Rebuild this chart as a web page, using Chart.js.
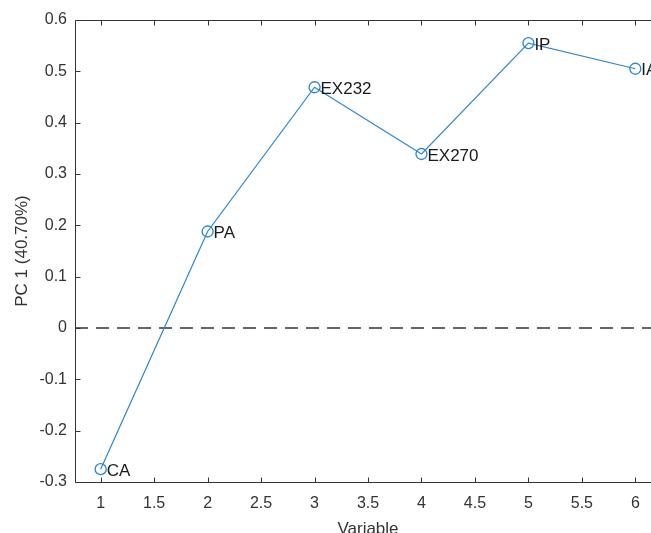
<!DOCTYPE html>
<html>
<head>
<meta charset="utf-8">
<script src="https://cdn.jsdelivr.net/npm/chart.js@4"></script>
<style>
  html, body { margin: 0; padding: 0; overflow: hidden; background: #fff; }
  canvas { display: block; }
</style>
</head>
<body>
<canvas id="pcChart" width="700" height="545"></canvas>
<script>
// loadings of the first principal component
const variables = [1, 2, 3, 4, 5, 6];
const names = ['CA', 'PA', 'EX232', 'EX270', 'IP', 'IA'];
const pc1 = [-0.275, 0.188, 0.469, 0.339, 0.555, 0.505];

const xTicks = [1, 1.5, 2, 2.5, 3, 3.5, 4, 4.5, 5, 5.5, 6];
const yTicks = [-0.3, -0.2, -0.1, 0, 0.1, 0.2, 0.3, 0.4, 0.5, 0.6];
const xMin = 0.76, xMax = 6.24;
const yMin = -0.3, yMax = 0.6;

const axisColor = '#333';
const lineBlue = '#2a86cc';
const font = 'Liberation Sans, Arial, Helvetica, sans-serif';

// matlab style box + inward ticks + point names
const matlabAxes = {
  id: 'matlabAxes',
  afterDatasetsDraw(chart) {
    const ctx = chart.ctx;
    const a = chart.chartArea;
    const xs = chart.scales.x, ys = chart.scales.y;
    const L = Math.round(a.left) + 0.5, T = Math.round(a.top) + 0.5, B = Math.round(a.bottom) + 0.5;
    ctx.save();
    ctx.strokeStyle = axisColor;
    ctx.lineWidth = 1;
    ctx.beginPath();
    ctx.moveTo(a.right, T); ctx.lineTo(L, T); ctx.lineTo(L, B); ctx.lineTo(a.right, B);
    xTicks.forEach(v => {
      const px = Math.round(xs.getPixelForValue(v)) + 0.5;
      ctx.moveTo(px, B); ctx.lineTo(px, B - 5);
      ctx.moveTo(px, T); ctx.lineTo(px, T + 5);
    });
    yTicks.forEach(v => {
      const py = Math.round(ys.getPixelForValue(v)) + 0.5;
      ctx.moveTo(L, py); ctx.lineTo(L + 5, py);
    });
    ctx.stroke();

    ctx.fillStyle = '#1a1a1a';
    ctx.font = '17px ' + font;
    ctx.textAlign = 'left';
    ctx.textBaseline = 'middle';
    chart.getDatasetMeta(0).data.forEach((pt, i) => {
      ctx.fillText(names[i], pt.x + 6, pt.y + 2);
    });
    ctx.restore();
  }
};

new Chart(document.getElementById('pcChart').getContext('2d'), {
  type: 'line',
  data: {
    datasets: [
      {
        data: variables.map((v, i) => ({ x: v, y: pc1[i] })),
        borderColor: lineBlue,
        borderWidth: 1.2,
        pointStyle: 'circle',
        pointRadius: 5.5,
        pointBorderWidth: 1.3,
        pointBackgroundColor: 'rgba(0,0,0,0)',
        pointBorderColor: lineBlue,
        tension: 0
      },
      {
        data: [{ x: xMin, y: 0 }, { x: xMax, y: 0 }],
        borderColor: '#333',
        borderWidth: 1.6,
        borderDash: [13, 8],
        pointRadius: 0
      }
    ]
  },
  plugins: [matlabAxes],
  options: {
    responsive: false,
    animation: false,
    layout: { padding: { left: 0, top: 20, right: 700 - 661, bottom: 0 } },
    plugins: { legend: { display: false }, tooltip: { enabled: false } },
    scales: {
      x: {
        type: 'linear',
        min: xMin,
        max: xMax,
        afterBuildTicks: s => { s.ticks = xTicks.map(v => ({ value: v })); },
        afterFit: s => { s.height = 63; },
        grid: { display: false, drawTicks: false },
        border: { display: false },
        ticks: {
          padding: 12,
          color: axisColor,
          font: { family: font, size: 16 },
          maxRotation: 0,
          autoSkip: false,
          callback: v => String(v)
        },
        title: {
          display: true,
          text: 'Variable',
          color: axisColor,
          font: { family: font, size: 17 },
          padding: { top: 0, bottom: 5 }
        }
      },
      y: {
        min: yMin,
        max: yMax,
        afterBuildTicks: s => { s.ticks = yTicks.map(v => ({ value: v })); },
        afterFit: s => { s.width = 75; },
        grid: { display: false, drawTicks: false },
        border: { display: false },
        ticks: {
          padding: 8,
          color: axisColor,
          font: { family: font, size: 16 },
          callback: v => String(Number(v.toFixed(1)))
        },
        title: {
          display: true,
          text: 'PC 1 (40.70%)',
          color: axisColor,
          font: { family: font, size: 17 },
          padding: { top: 12, bottom: 0 }
        }
      }
    }
  }
});
</script>
</body>
</html>
